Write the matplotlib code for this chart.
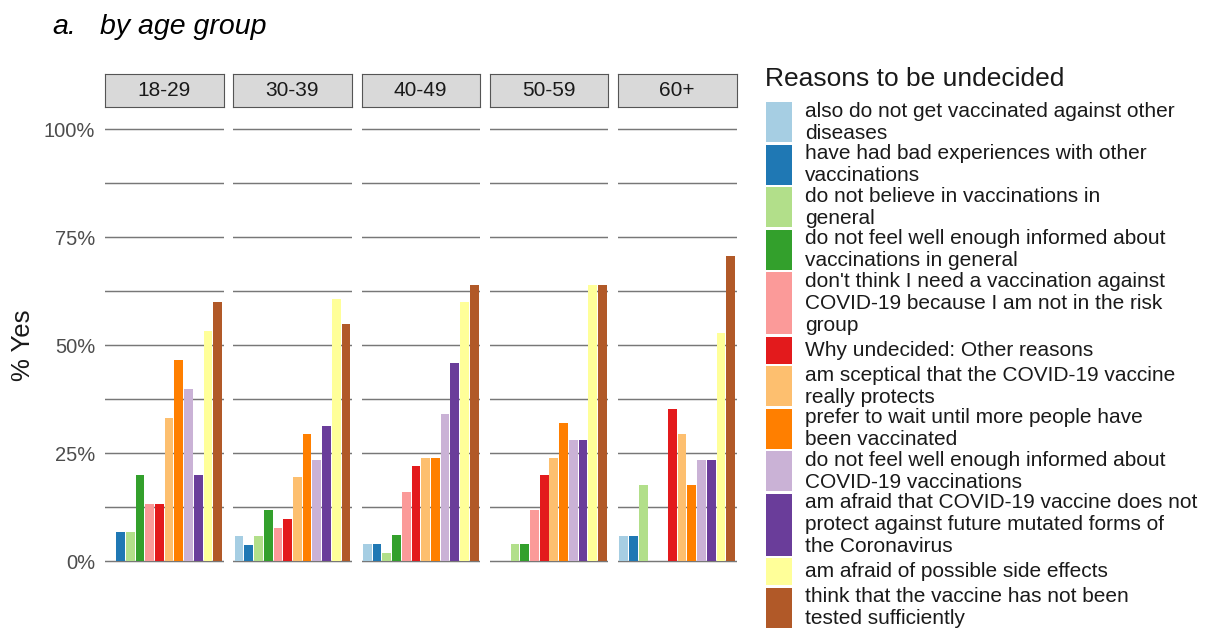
import numpy as np
import matplotlib
matplotlib.use("Agg")
import matplotlib.pyplot as plt
from matplotlib.patches import Rectangle

plt.rcParams['font.family'] = ['Liberation Sans', 'DejaVu Sans']

# Share of "yes" answers (%) per reason, one list per age group
age_groups = ['18-29', '30-39', '40-49', '50-59', '60+']

reasons = [
    'also do not get vaccinated against other\ndiseases',
    'have had bad experiences with other\nvaccinations',
    'do not believe in vaccinations in\ngeneral',
    'do not feel well enough informed about\nvaccinations in general',
    "don't think I need a vaccination against\nCOVID-19 because I am not in the risk\ngroup",
    'Why undecided: Other reasons',
    'am sceptical that the COVID-19 vaccine\nreally protects',
    'prefer to wait until more people have\nbeen vaccinated',
    'do not feel well enough informed about\nCOVID-19 vaccinations',
    'am afraid that COVID-19 vaccine does not\nprotect against future mutated forms of\nthe Coronavirus',
    'am afraid of possible side effects',
    'think that the vaccine has not been\ntested sufficiently',
]

pct_18_29 = [0.0, 6.7, 6.7, 20.0, 13.3, 13.3, 33.3, 46.7, 40.0, 20.0, 53.3, 60.0]
pct_30_39 = [5.9, 3.9, 5.9, 11.8, 7.8, 9.8, 19.6, 29.4, 23.5, 31.4, 60.8, 54.9]
pct_40_49 = [4.0, 4.0, 2.0, 6.0, 16.0, 22.0, 24.0, 24.0, 34.0, 46.0, 60.0, 64.0]
pct_50_59 = [0.0, 0.0, 4.0, 4.0, 12.0, 20.0, 24.0, 32.0, 28.0, 28.0, 64.0, 64.0]
pct_60_up = [5.9, 5.9, 17.6, 0.0, 0.0, 35.3, 29.4, 17.6, 23.5, 23.5, 52.9, 70.6]
values = [pct_18_29, pct_30_39, pct_40_49, pct_50_59, pct_60_up]

# ColorBrewer "Paired"
colors = ['#A6CEE3', '#1F78B4', '#B2DF8A', '#33A02C', '#FB9A99', '#E31A1C',
          '#FDBF6F', '#FF7F00', '#CAB2D6', '#6A3D9A', '#FFFF99', '#B15928']

W, H = 1213, 628
fig = plt.figure(figsize=(W / 100, H / 100), dpi=100)


def fig_box(x0, y0, x1, y1):
    # pixel box with origin top-left -> figure-fraction rect
    return [x0 / W, 1 - y1 / H, (x1 - x0) / W, (y1 - y0) / H]


grid_y = np.arange(0, 101, 12.5)
x = np.arange(1, len(reasons) + 1)
panel_w = 118.5
for i, (age, vals) in enumerate(zip(age_groups, values)):
    left = 105 + i * 128.25
    ax = fig.add_axes(fig_box(left, 107.7, left + panel_w, 583))
    for gy in grid_y:
        ax.axhline(gy, color='#777777', lw=1.05, zorder=0)
    ax.bar(x, vals, width=0.9, color=colors, zorder=2)
    ax.set_xlim(0.4, 12.6)
    ax.set_ylim(-5, 105)
    ax.set_xticks([])
    for s in ax.spines.values():
        s.set_visible(False)
    ax.patch.set_alpha(0)
    if i == 0:
        ax.set_yticks([0, 25, 50, 75, 100], ['0%', '25%', '50%', '75%', '100%'])
        ax.tick_params(axis='y', length=0, pad=7, labelsize=14.5, labelcolor='#4D4D4D')
    else:
        ax.set_yticks([])

    # facet strip
    st = fig.add_axes(fig_box(left, 74, left + panel_w, 107))
    st.set_facecolor('#D9D9D9')
    st.set_xticks([])
    st.set_yticks([])
    for s in st.spines.values():
        s.set_edgecolor('#555555')
        s.set_linewidth(0.8)
    st.text(0.5, 0.5, age, ha='center', va='center', fontsize=15,
            color='#1A1A1A', transform=st.transAxes)

fig.text(23.5 / W, 1 - 345 / H, '% Yes', rotation=90, ha='center', va='center',
         fontsize=18.5, color='#1A1A1A')
fig.text(52 / W, 1 - 34 / H, 'a.', fontsize=20.5, style='italic', va='baseline')
fig.text(100 / W, 1 - 34 / H, 'by age group', fontsize=20.5, style='italic', va='baseline')

# legend drawn by hand so keys stretch with wrapped labels
lax = fig.add_axes(fig_box(750, 0, W, H))
lax.set_xlim(750, W)
lax.set_ylim(H, 0)
lax.axis('off')
lax.text(765, 86, 'Reasons to be undecided', fontsize=19, va='baseline', color='#1A1A1A')
key_h = {1: 27, 2: 40, 3: 62}
top = 102.3
for lab, col in zip(reasons, colors):
    h = key_h[lab.count('\n') + 1]
    lax.add_patch(Rectangle((766, top), 26.5, h, color=col, lw=0))
    lax.text(805, top + h / 2, lab, fontsize=15, va='center', ha='left',
             color='#1A1A1A', linespacing=1.2)
    top += h + 2.5

fig.savefig('out.png', dpi=100)
